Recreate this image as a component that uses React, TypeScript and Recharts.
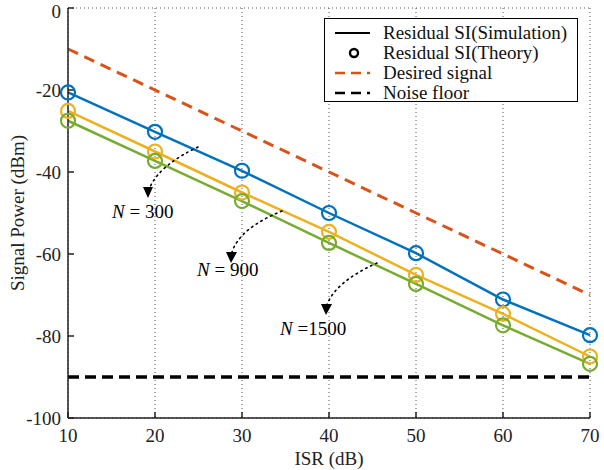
import { LineChart, Line, XAxis, YAxis, CartesianGrid } from 'recharts';

const isr = [10, 20, 30, 40, 50, 60, 70];
const siN300 = [-20.6, -30.2, -39.7, -50, -59.8, -71.1, -79.8];
const siN900 = [-25.1, -35, -45, -54.6, -65.1, -74.6, -85];
const siN1500 = [-27.5, -37.3, -47.1, -57.3, -67.3, -77.4, -86.8];
const desired = [-10, -20, -30, -40, -50, -60, -70];
const noiseFloor = [-90, -90, -90, -90, -90, -90, -90];
const xTicks = [10, 20, 30, 40, 50, 60, 70];
const yTicks = [-100, -80, -60, -40, -20, 0];

const BLUE = '#0072BD';
const YELLOW = '#EDB120';
const GREEN = '#77AC30';
const ORANGE = '#D95319';
const FONT = 'Liberation Serif';
const FS = 19;

const data = isr.map((x, i) => ({
  x,
  n300: siN300[i],
  n900: siN900[i],
  n1500: siN1500[i],
  desired: desired[i],
  noise: noiseFloor[i],
}));

const ring = (color: string) => (props: any) => {
  const { cx, cy, index } = props;
  if (cx == null || cy == null) return <g key={index} />;
  return <circle key={index} cx={cx} cy={cy} r={7} fill="none" stroke={color} strokeWidth={2.2} />;
};

function LegendBox() {
  const rows = [
    { label: 'Residual SI(Simulation)', kind: 'line' },
    { label: 'Residual SI(Theory)', kind: 'ring' },
    { label: 'Desired signal', kind: 'dashOrange' },
    { label: 'Noise floor', kind: 'dashBlack' },
  ];
  return (
    <div style={{ position: 'absolute', left: 324, top: 18, width: 254, height: 84, border: '1px solid #000', background: '#fff', boxSizing: 'border-box', fontFamily: FONT, fontSize: FS, color: '#111' }}>
      {rows.map((r, i) => (
        <div key={r.label} style={{ position: 'absolute', left: 0, top: 4 + i * 20, height: 20, display: 'flex', alignItems: 'center' }}>
          <svg width={58} height={20} style={{ display: 'block' }}>
            {r.kind === 'line' && <line x1={10} x2={45} y1={10} y2={10} stroke="#000" strokeWidth={2} />}
            {r.kind === 'ring' && <circle cx={29} cy={10} r={4} fill="none" stroke="#000" strokeWidth={2.4} />}
            {r.kind === 'dashOrange' && <line x1={10} x2={45} y1={10} y2={10} stroke={ORANGE} strokeWidth={2.5} strokeDasharray="10 6" />}
            {r.kind === 'dashBlack' && <line x1={10} x2={45} y1={10} y2={10} stroke="#000" strokeWidth={2.5} strokeDasharray="10 6" />}
          </svg>
          <span style={{ whiteSpace: 'nowrap', lineHeight: '20px' }}>{r.label}</span>
        </div>
      ))}
    </div>
  );
}

function Annotations() {
  const text = { fontSize: FS, fill: '#000', style: { fontFamily: FONT } };
  return (
    <svg width={604} height={470} style={{ position: 'absolute', left: 0, top: 0, pointerEvents: 'none' }}>
      <g fill="none" stroke="#000" strokeWidth={1.6} strokeDasharray="1.5 4" strokeLinecap="round">
        <path d="M198 147 Q160 165 150 187" />
        <path d="M282 211 Q240 228 232 252" />
        <path d="M377 263 Q335 282 327 305" />
      </g>
      <g fill="#000">
        <polygon points="143,187 153,187 148,198" />
        <polygon points="226,252 237,252 231,263" />
        <polygon points="321,304 332,304 326,315" />
      </g>
      <text x={112} y={218} {...text}><tspan fontStyle="italic">N</tspan> = 300</text>
      <text x={197} y={276} {...text}><tspan fontStyle="italic">N</tspan> = 900</text>
      <text x={280} y={335} {...text}><tspan fontStyle="italic">N</tspan> =1500</text>
    </svg>
  );
}

export default function App() {
  const tick = { fontFamily: FONT, fontSize: FS, fill: '#222' };
  return (
    <div style={{ position: 'absolute', left: 0, top: 0, width: 604, height: 470, background: '#fff', fontFamily: FONT }}>
      <style>{`.recharts-wrapper text, svg text { font-family: 'Liberation Serif', serif; }`}</style>
      <LineChart width={604} height={470} data={data} margin={{ top: 8, right: 14, bottom: 0, left: 0 }}>
        <CartesianGrid stroke="#555" strokeDasharray="1 3" strokeWidth={1} />
        <XAxis
          xAxisId="b"
          dataKey="x"
          type="number"
          domain={[10, 70]}
          ticks={xTicks}
          height={52}
          tickSize={-6}
          tickMargin={17}
          stroke="#222"
          strokeWidth={1.5}
          tick={tick}
          label={{ value: 'ISR (dB)', position: 'insideBottom', offset: 5, style: { fontFamily: FONT, fontSize: FS, fill: '#222' } }}
        />
        <XAxis xAxisId="t" dataKey="x" type="number" orientation="top" domain={[10, 70]} ticks={xTicks} height={0} tickSize={-6} tick={false} stroke="#222" strokeWidth={1.5} />
        <YAxis
          yAxisId="l"
          type="number"
          domain={[-100, 0]}
          ticks={yTicks}
          width={68}
          tickSize={-6}
          tickMargin={13}
          stroke="#222"
          strokeWidth={1.5}
          tick={tick}
          label={{ value: 'Signal Power (dBm)', angle: -90, position: 'insideLeft', offset: 17, style: { fontFamily: FONT, fontSize: FS, fill: '#222', textAnchor: 'middle' } }}
        />
        <YAxis yAxisId="r" type="number" orientation="right" domain={[-100, 0]} ticks={yTicks} width={0} tickSize={-6} tick={false} stroke="#222" strokeWidth={1.5} />
        <Line xAxisId="b" yAxisId="l" dataKey="desired" stroke={ORANGE} strokeWidth={3} strokeDasharray="11 7" dot={false} activeDot={false} isAnimationActive={false} />
        <Line xAxisId="b" yAxisId="l" dataKey="noise" stroke="#000" strokeWidth={3.5} strokeDasharray="11 6" dot={false} activeDot={false} isAnimationActive={false} />
        <Line xAxisId="b" yAxisId="l" dataKey="n300" stroke={BLUE} strokeWidth={2.5} dot={ring(BLUE)} activeDot={false} isAnimationActive={false} />
        <Line xAxisId="b" yAxisId="l" dataKey="n900" stroke={YELLOW} strokeWidth={2.5} dot={ring(YELLOW)} activeDot={false} isAnimationActive={false} />
        <Line xAxisId="b" yAxisId="l" dataKey="n1500" stroke={GREEN} strokeWidth={2.5} dot={ring(GREEN)} activeDot={false} isAnimationActive={false} />
      </LineChart>
      <LegendBox />
      <Annotations />
    </div>
  );
}
